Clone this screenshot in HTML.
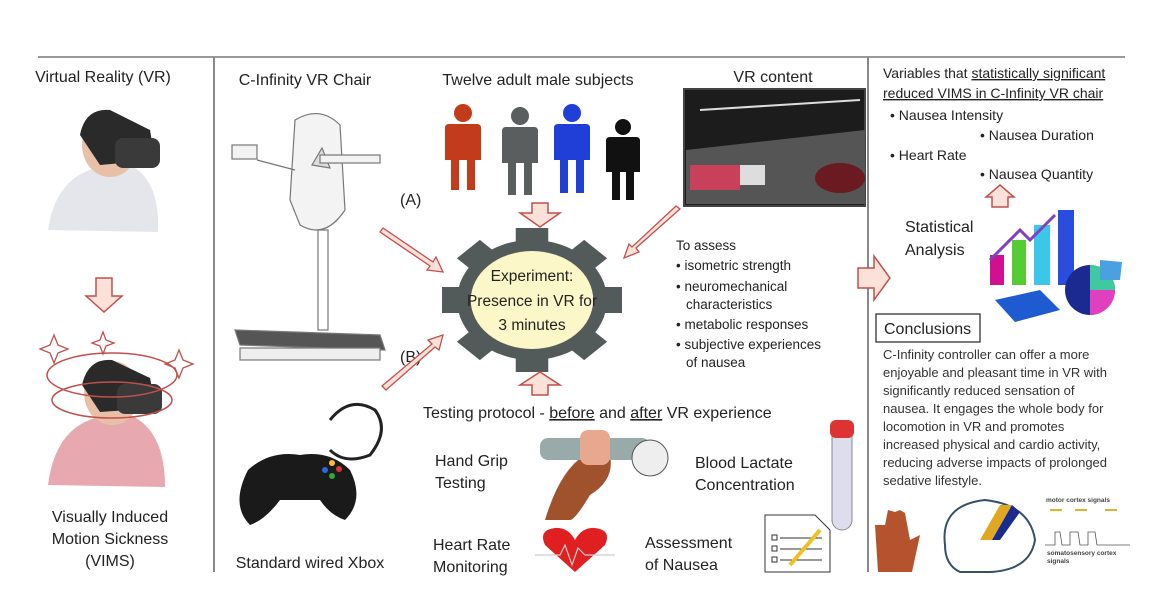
<!DOCTYPE html>
<html><head><meta charset="utf-8"><style>
body{margin:0;background:#fff}
svg{display:block;font-family:"Liberation Sans",sans-serif}
</style></head><body>
<svg width="1170" height="612" viewBox="0 0 1170 612" xmlns="http://www.w3.org/2000/svg">
<rect width="1170" height="612" fill="#fff"/>
<line x1="38" y1="57" x2="1125" y2="57" stroke="#999" stroke-width="2"/>
<line x1="214" y1="57" x2="214" y2="572" stroke="#888" stroke-width="2"/>
<line x1="868" y1="57" x2="868" y2="572" stroke="#888" stroke-width="2"/>
<g font-size="16" fill="#222">
<text x="103" y="82" text-anchor="middle">Virtual Reality (VR)</text>
<text x="110" y="522" text-anchor="middle">Visually Induced</text>
<text x="110" y="544" text-anchor="middle">Motion Sickness</text>
<text x="110" y="566" text-anchor="middle">(VIMS)</text>
<text x="305" y="85" text-anchor="middle">C-Infinity VR Chair</text>
<text x="400" y="205">(A)</text>
<text x="400" y="362">(B)</text>
<text x="310" y="568" text-anchor="middle">Standard wired Xbox</text>
<text x="538" y="85" text-anchor="middle">Twelve adult male subjects</text>
<text x="773" y="82" text-anchor="middle">VR content</text>
<text x="423" y="418">Testing protocol - <tspan text-decoration="underline">before</tspan> and <tspan text-decoration="underline">after</tspan> VR experience</text>
<text x="435" y="466">Hand Grip</text><text x="435" y="488">Testing</text>
<text x="695" y="468">Blood Lactate</text><text x="695" y="490">Concentration</text>
<text x="433" y="550">Heart Rate</text><text x="433" y="572">Monitoring</text>
<text x="645" y="548">Assessment</text><text x="645" y="570">of Nausea</text>
<text x="905" y="232">Statistical</text><text x="905" y="255">Analysis</text>
</g>
<!-- VR person -->
<g>
<path d="M48 230 Q55 180 95 168 L130 165 Q160 180 158 232 Z" fill="#e4e6ec"/>
<ellipse cx="110" cy="145" rx="28" ry="32" fill="#e8c0a8"/>
<path d="M80 135 Q85 108 110 110 L150 130 L155 160 L100 165 Z" fill="#2a2a2a"/>
<rect x="115" y="138" width="45" height="30" rx="8" fill="#3a3a3a"/>
</g>
<path d="M96 278 H112 V296 H122 L104 312 L86 296 H96 Z" fill="#fbe1d8" stroke="#c0504d" stroke-width="1.5"/>
<!-- VIMS person -->
<g>
<path d="M48 485 Q55 430 95 418 L130 415 Q165 430 165 487 Z" fill="#e8a8b0"/>
<ellipse cx="112" cy="393" rx="28" ry="32" fill="#e8c0a8"/>
<path d="M82 385 Q88 358 112 360 L150 378 L156 408 L100 412 Z" fill="#2a2a2a"/>
<rect x="117" y="384" width="45" height="30" rx="8" fill="#3a3a3a"/>
<ellipse cx="112" cy="375" rx="65" ry="22" fill="none" stroke="#c0504d" stroke-width="1.5"/>
<ellipse cx="112" cy="400" rx="60" ry="18" fill="none" stroke="#c0504d" stroke-width="1.5"/>
<path d="M50 345 l4 -10 l4 10 l10 4 l-10 4 l-4 10 l-4 -10 l-10 -4Z M100 340 l3 -8 l3 8 l8 3 l-8 3 l-3 8 l-3 -8 l-8 -3Z M175 360 l4 -10 l4 10 l10 4 l-10 4 l-4 10 l-4 -10 l-10 -4Z" fill="none" stroke="#c0504d" stroke-width="1.3"/>
</g>
<!-- chair -->
<g stroke="#777" stroke-width="1.2" fill="#f3f3f3">
<path d="M295 120 Q320 105 340 125 L345 210 Q325 240 300 225 L290 200 Z"/>
<path d="M312 165 L322 148 L330 168 Z" fill="#ddd"/>
<rect x="232" y="145" width="25" height="14"/>
<line x1="257" y1="160" x2="295" y2="170"/>
<rect x="320" y="155" width="60" height="8"/>
<rect x="318" y="230" width="10" height="100" fill="#fff"/>
<path d="M235 330 L380 335 L385 350 L240 345 Z" fill="#555"/>
<rect x="240" y="348" width="140" height="12" fill="#eee"/>
</g>
<path d="M383 228 L433 262 L436 257 L443 272 L427 270 L430 266 L380 232 Z" fill="#fbe1d8" stroke="#c0504d" stroke-width="1.3"/>
<path d="M382 386 L432 344 L428 340 L443 335 L439 350 L435 347 L386 390 Z" fill="#fbe1d8" stroke="#c0504d" stroke-width="1.3"/>
<!-- xbox -->
<g>
<path d="M330 420 Q350 395 375 410 Q390 430 370 455 Q345 465 330 450" fill="none" stroke="#222" stroke-width="3"/>
<path d="M248 470 Q270 450 300 455 Q330 450 350 470 Q365 500 345 520 Q330 515 320 500 L280 500 Q265 520 250 525 Q230 505 248 470 Z" fill="#1a1a1a"/>
<circle cx="325" cy="470" r="3" fill="#2d6ad8"/><circle cx="332" cy="476" r="3" fill="#3a3"/><circle cx="339" cy="469" r="3" fill="#d33"/><circle cx="332" cy="463" r="3" fill="#fb3"/>
</g>
<!-- people -->
<g>
<g fill="#c23b1a"><circle cx="463" cy="113" r="9"/><path d="M449 124 H477 Q481 124 481 128 V160 H475 V190 H467 V160 H459 V190 H451 V160 H445 V128 Q445 124 449 124Z"/></g>
<g fill="#5a5e5f"><circle cx="520" cy="116" r="9"/><path d="M506 127 H534 Q538 127 538 131 V163 H532 V195 H524 V163 H516 V195 H508 V163 H502 V131 Q502 127 506 127Z"/></g>
<g fill="#1f3fd6"><circle cx="572" cy="113" r="9"/><path d="M558 124 H586 Q590 124 590 128 V160 H584 V193 H576 V160 H568 V193 H560 V160 H554 V128 Q554 124 558 124Z"/></g>
<g fill="#111"><circle cx="623" cy="127" r="8"/><path d="M610 137 H636 Q640 137 640 141 V172 H634 V200 H626 V172 H620 V200 H612 V172 H606 V141 Q606 137 610 137Z"/></g>
</g>
<path d="M532 203 H548 V213 H560 L540 227 L520 213 H532 Z" fill="#fbe1d8" stroke="#c0504d" stroke-width="1.5"/>
<!-- gear -->
<g transform="translate(532 300) scale(1.25 1)">
<g fill="#535a5a">
<circle r="60"/>
<g id="t"><rect x="-13" y="-72" width="26" height="20"/></g>
<use href="#t" transform="rotate(45)"/><use href="#t" transform="rotate(90)"/><use href="#t" transform="rotate(135)"/><use href="#t" transform="rotate(180)"/><use href="#t" transform="rotate(225)"/><use href="#t" transform="rotate(270)"/><use href="#t" transform="rotate(315)"/>
</g>
<circle r="49" fill="#fbf7c8"/>
</g>
<g font-size="15.5" fill="#222" text-anchor="middle"><text x="532" y="281">Experiment:</text><text x="532" y="306">Presence in VR for</text><text x="532" y="330">3 minutes</text></g>
<!-- VR content image -->
<rect x="684" y="89" width="181" height="117" fill="#1c1c1c" stroke="#444" stroke-width="2"/>
<path d="M686 150 L865 130 L865 204 L686 204 Z" fill="#555"/>
<rect x="690" y="165" width="50" height="25" fill="#c8405a"/>
<rect x="740" y="165" width="25" height="20" fill="#ddd"/>
<ellipse cx="840" cy="178" rx="25" ry="15" fill="#6a1a20"/>
<line x1="700" y1="110" x2="860" y2="100" stroke="#ddd" stroke-width="2"/>
<path d="M680 209 L636 248 L639 252 L624 258 L629 244 L632 247 L676 206 Z" fill="#fbe1d8" stroke="#c0504d" stroke-width="1.3"/>
<g font-size="13.5" fill="#222">
<text x="676" y="250">To assess</text>
<text x="676" y="270">• isometric strength</text>
<text x="676" y="291">• neuromechanical</text>
<text x="686" y="309">characteristics</text>
<text x="676" y="329">• metabolic responses</text>
<text x="676" y="349">• subjective experiences</text>
<text x="686" y="367">of nausea</text>
</g>
<path d="M532 395 H548 V385 H560 L540 372 L520 385 H532 Z" fill="#fbe1d8" stroke="#c0504d" stroke-width="1.5"/>
<!-- hand grip -->
<path d="M545 520 Q560 470 585 455 L610 455 Q615 480 590 495 Q575 520 570 520 Z" fill="#a0522d"/>
<rect x="540" y="438" width="110" height="22" rx="8" fill="#9aa"/>
<circle cx="650" cy="458" r="18" fill="#eee" stroke="#555"/>
<rect x="580" y="430" width="30" height="35" rx="8" fill="#e8a890"/>
<rect x="832" y="425" width="20" height="105" rx="10" fill="#dde" stroke="#888"/>
<rect x="830" y="420" width="24" height="18" rx="6" fill="#d33"/>
<path d="M575 572 L545 545 Q538 530 555 528 Q568 527 575 540 Q582 527 595 528 Q612 530 605 545 Z" fill="#e02020"/>
<path d="M535 555 H560 L565 545 L572 565 L578 548 L585 555 H615" fill="none" stroke="#ccc" stroke-width="1.2"/>
<path d="M765 515 H815 L830 530 V572 H765 Z" fill="#fff" stroke="#333"/>
<g fill="none" stroke="#333" stroke-width="1"><rect x="772" y="535" width="5" height="5"/><rect x="772" y="546" width="5" height="5"/><rect x="772" y="557" width="5" height="5"/><line x1="780" y1="538" x2="822" y2="538"/><line x1="780" y1="549" x2="822" y2="549"/><line x1="780" y1="560" x2="822" y2="560"/></g>
<line x1="820" y1="530" x2="790" y2="565" stroke="#f0c020" stroke-width="4"/>
<path d="M858 268 H874 V256 L890 278 L874 300 V288 H858 Z" fill="#fbe1d8" stroke="#c0504d" stroke-width="1.5"/>
<g font-size="14" fill="#222">
<text x="883" y="78">Variables that <tspan text-decoration="underline">statistically significant</tspan></text>
<text x="883" y="98" text-decoration="underline">reduced VIMS in C-Infinity VR chair</text>
<text x="890" y="120">• Nausea Intensity</text>
<text x="980" y="140">• Nausea Duration</text>
<text x="890" y="160">• Heart Rate</text>
<text x="980" y="179">• Nausea Quantity</text>
</g>
<path d="M992 207 H1008 V197 H1014 L1000 185 L986 197 H992 Z" fill="#fbe1d8" stroke="#c0504d" stroke-width="1.5"/>
<g>
<rect x="990" y="255" width="14" height="30" fill="#d01090"/>
<rect x="1012" y="240" width="14" height="45" fill="#5c3"/>
<rect x="1034" y="225" width="16" height="60" fill="#3bc8e8"/>
<rect x="1058" y="210" width="16" height="75" fill="#2a4de0"/>
<path d="M990 260 L1020 230 L1030 240 L1055 215" stroke="#8040c0" stroke-width="3" fill="none"/>
<circle cx="1090" cy="290" r="25" fill="#1a2a90"/>
<path d="M1090 290 L1115 290 A25 25 0 0 1 1090 315 Z" fill="#e040c0"/>
<path d="M1090 290 L1090 265 A25 25 0 0 1 1115 290 Z" fill="#40c8a0"/>
<path d="M1100 260 L1122 262 L1120 280 L1100 280 Z" fill="#4aa0e0"/>
<path d="M995 300 L1040 290 L1060 310 L1015 322 Z" fill="#1e5ad0"/>
</g>
<rect x="876" y="314" width="104" height="28" fill="#fff" stroke="#333" stroke-width="1.3"/>
<text x="884" y="334" font-size="16" fill="#222">Conclusions</text>
<g font-size="13" fill="#333">
<text x="883" y="359">C-Infinity controller can offer a more</text>
<text x="883" y="377">enjoyable and pleasant time in VR with</text>
<text x="883" y="395">significantly reduced sensation of</text>
<text x="883" y="413">nausea. It engages the whole body for</text>
<text x="883" y="431">locomotion in VR and promotes</text>
<text x="883" y="449">increased physical and cardio activity,</text>
<text x="883" y="467">reducing adverse impacts of prolonged</text>
<text x="883" y="485">sedative lifestyle.</text>
</g>
<path d="M878 572 L875 525 L885 525 L888 510 L895 512 L900 510 L905 513 L910 540 L920 535 L912 572 Z" fill="#b5532f"/>
<path d="M945 545 Q940 505 985 500 Q1030 505 1035 540 Q1030 570 990 572 L960 572 Q945 565 945 545 Z" fill="#fff" stroke="#34506a" stroke-width="2"/>
<path d="M980 540 L1000 505 L1012 505 L992 540 Z" fill="#e0a820"/>
<path d="M992 540 L1012 505 L1020 512 L1000 540 Z" fill="#1a2a90"/>
<g font-size="6.5" fill="#444" font-weight="bold">
<text x="1046" y="502">motor cortex signals</text>
<text x="1047" y="555">somatosensory cortex</text>
<text x="1047" y="563">signals</text>
</g>
<path d="M1045 545 H1055 V532 H1060 L1062 545 H1070 V532 H1078 L1080 545 H1088 V532 H1095 L1097 545 H1130" fill="none" stroke="#555" stroke-width="0.8"/>
<g stroke="#e0b030" stroke-width="2"><line x1="1050" y1="510" x2="1062" y2="510"/><line x1="1075" y1="510" x2="1087" y2="510"/><line x1="1105" y1="510" x2="1117" y2="510"/></g>
</svg>
</body></html>
